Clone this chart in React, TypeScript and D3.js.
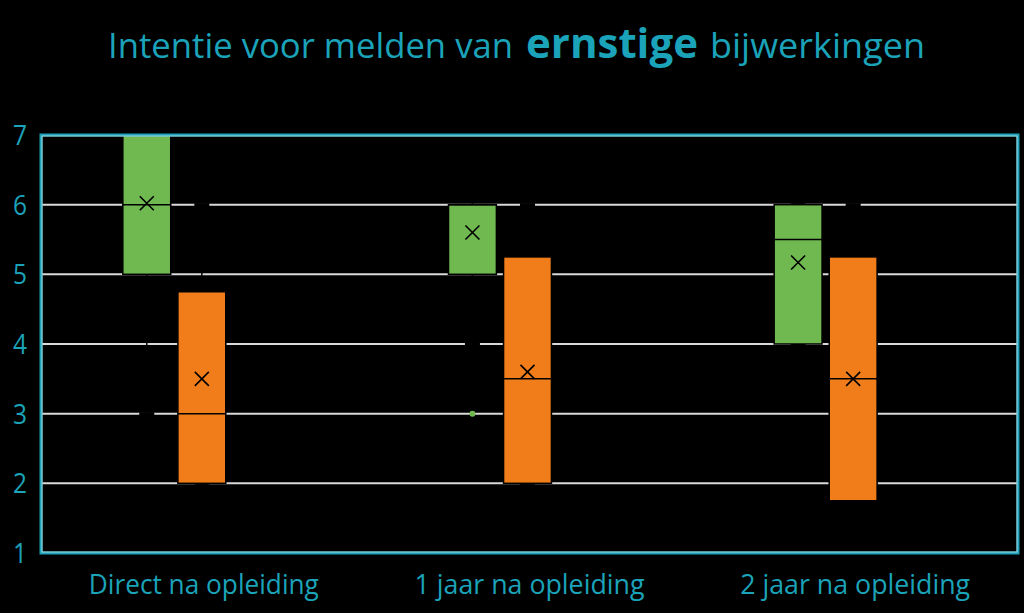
import React from 'react'
import * as d3 from 'd3'

// categories and series
const categories = ['Direct na opleiding', '1 jaar na opleiding', '2 jaar na opleiding']
const seriesNames = ['groen', 'oranje']
const yTicks = [1, 2, 3, 4, 5, 6, 7]

// box plot stats per series, one value per category
const greenMin = [3, 4, 4]
const greenQ1 = [5, 5, 4]
const greenMedian = [6, 6, 5.5]
const greenQ3 = [7, 6, 6]
const greenMax = [7, 7, 6]
const greenMean = [6.02, 5.6, 5.17]
const greenOutliers = [[], [3], []]

const orangeMin = [2, 2, 1.75]
const orangeQ1 = [2, 2, 1.75]
const orangeMedian = [3, 3.5, 3.5]
const orangeQ3 = [4.75, 5.25, 5.25]
const orangeMax = [6, 6, 6]
const orangeMean = [3.5, 3.6, 3.5]
const orangeOutliers: number[][] = [[], [], []]

const teal = '#1BA3B9'
const colors = ['#70B850', '#F07D19']

const W = 1024
const H = 613
const plot = {left: 41, right: 1018, top: 135, bottom: 553}

function App() {
  const x = d3.scaleBand().domain(categories).range([plot.left, plot.right])
  const y = d3.scaleLinear().domain([1, 7]).range([plot.bottom, plot.top])
  // three slots per category: green, orange, empty
  const slot = d3.scaleBand<number>().domain([0, 1, 2]).range([-79, 79]).paddingInner(0.13)
  const bw = slot.bandwidth()

  const series = [
    {min: greenMin, q1: greenQ1, med: greenMedian, q3: greenQ3, max: greenMax, mean: greenMean, out: greenOutliers},
    {min: orangeMin, q1: orangeQ1, med: orangeMedian, q3: orangeQ3, max: orangeMax, mean: orangeMean, out: orangeOutliers},
  ]

  return (
    <svg
      width={W}
      height={H}
      style={{position: 'fixed', left: 0, top: 0, background: '#000', display: 'block'}}
      fontFamily="'Open Sans', sans-serif">
      <rect width={W} height={H} fill="#000" />
      {/* title */}
      <text x={108} y={58} fill={teal} fontSize={34} textLength={405} lengthAdjust="spacingAndGlyphs">
        Intentie voor melden van
      </text>
      <text x={526} y={58} fill={teal} fontSize={42} fontWeight="bold" textLength={172} lengthAdjust="spacingAndGlyphs">
        ernstige
      </text>
      <text x={710} y={58} fill={teal} fontSize={34} textLength={215} lengthAdjust="spacingAndGlyphs">
        bijwerkingen
      </text>

      {/* gridlines */}
      {yTicks.slice(1, -1).map(t => (
        <line key={t} x1={plot.left} x2={plot.right} y1={y(t)} y2={y(t)} stroke="#D9D9D9" strokeWidth={2} />
      ))}

      {/* y tick labels */}
      {yTicks.map(t => (
        <text key={t} x={27} y={y(t)} dy="0.36em" textAnchor="end" fill={teal} fontSize={28} textLength={14} lengthAdjust="spacingAndGlyphs">
          {t}
        </text>
      ))}

      {/* boxes */}
      {series.map((s, si) =>
        categories.map((c, ci) => {
          const cx = (x(c) as number) + x.bandwidth() / 2 + (slot(si) as number) + bw / 2 - 2
          const x0 = cx - bw / 2
          const cap = 15
          const m = 7
          const my = y(s.mean[ci])
          return (
            <g key={seriesNames[si] + ci}>
              <line x1={cx} x2={cx} y1={y(s.max[ci])} y2={y(s.q3[ci])} stroke="#000" strokeWidth={1.5} />
              <line x1={cx} x2={cx} y1={y(s.q1[ci])} y2={y(s.min[ci])} stroke="#000" strokeWidth={1.5} />
              <line x1={cx - cap / 2} x2={cx + cap / 2} y1={y(s.max[ci])} y2={y(s.max[ci])} stroke="#000" strokeWidth={3} />
              <line x1={cx - cap / 2} x2={cx + cap / 2} y1={y(s.min[ci])} y2={y(s.min[ci])} stroke="#000" strokeWidth={3} />
              <rect
                x={x0}
                y={y(s.q3[ci])}
                width={bw}
                height={y(s.q1[ci]) - y(s.q3[ci])}
                fill={colors[si]}
                stroke="#000"
                strokeWidth={1.5}
              />
              <line x1={x0} x2={x0 + bw} y1={y(s.med[ci])} y2={y(s.med[ci])} stroke="#000" strokeWidth={1.5} />
              <path
                d={`M${cx - m},${my - m}L${cx + m},${my + m}M${cx - m},${my + m}L${cx + m},${my - m}`}
                stroke="#000"
                strokeWidth={1.6}
              />
              {s.out[ci].map((o, oi) => (
                <circle key={oi} cx={cx} cy={y(o)} r={3} fill={colors[si]} />
              ))}
            </g>
          )
        })
      )}

      {/* plot border */}
      <rect
        x={plot.left}
        y={plot.top}
        width={plot.right - plot.left}
        height={plot.bottom - plot.top}
        fill="none"
        stroke={teal}
        strokeWidth={3}
      />
      <rect
        x={plot.left + 1}
        y={plot.top + 1}
        width={plot.right - plot.left - 2}
        height={plot.bottom - plot.top - 2}
        fill="none"
        stroke="#A8DCE6"
        strokeWidth={1}
      />

      {/* category labels */}
      {categories.map(c => (
        <text
          key={c}
          x={(x(c) as number) + x.bandwidth() / 2}
          y={594}
          textAnchor="middle"
          fill={teal}
          fontSize={28}
          textLength={230}
          lengthAdjust="spacingAndGlyphs">
          {c}
        </text>
      ))}
    </svg>
  )
}

export default App
